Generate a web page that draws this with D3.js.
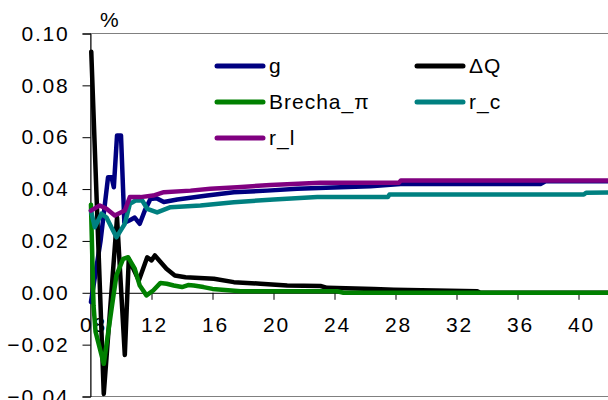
<!DOCTYPE html>
<html>
<head>
<meta charset="utf-8">
<script src="https://cdn.jsdelivr.net/npm/d3@7"></script>
<style>
  body { margin: 0; background: #fff; }
  svg { display: block; }
  text { font-family: Arial, "Liberation Sans", sans-serif; }
</style>
</head>
<body>
<div id="chart"></div>
<script>
// DATA: [period, value]
var g = [[8.03,-0.0036],[8.66,0.020],[9.15,0.0446],[9.38,0.0446],[9.53,0.0407],[9.74,0.0607],[10.0,0.0607],
  [10.22,0.027],[10.58,0.028],[10.9,0.029],[11.23,0.0266],[11.56,0.0317],[11.93,0.0362],[12.33,0.0365],
  [12.81,0.035],[13.69,0.036],[15.65,0.0375],[17.4,0.0388],[19.59,0.0394],[21.55,0.0401],[24.39,0.0407],
  [26.36,0.0411],[28.33,0.042],[37.51,0.042],[37.84,0.043],[44,0.043]]
var dQ = [[8.05,0.093],[8.87,-0.039],[9.74,0.029],[10.25,-0.024],[10.51,0.013],[11.17,0.0047],[11.72,0.0137],
  [12.0,0.0125],[12.22,0.0144],[12.98,0.0093],[13.53,0.0067],[14.23,0.006],[16.09,0.0054],[17.4,0.0041],
  [19.15,0.0035],[20.9,0.0028],[23.08,0.0026],[23.52,0.0019],[26.58,0.0015],[27.89,0.0012],[33.36,0.0006],
  [33.57,0],[44,0]]
var brecha = [[8.03,0.034],[8.2,-0.005],[8.33,-0.015],[8.87,-0.0274],[9.38,-0.0062],[9.70,0.0067],[10.14,0.0131],
  [10.47,0.0137],[10.9,0.0093],[11.23,0.0028],[11.67,-0.001],[12.11,0.0009],[12.59,0.0038],[13.0,0.0035],
  [13.46,0.0028],[14.0,0.0022],[14.4,0.003],[14.77,0.0028],[15.41,0.0022],[16.0,0.0015],[17.84,0.0006],
  [24.18,0.0006],[24.59,0],[44,0]]
var rc = [[8.03,0.0317],[8.28,0.0253],[8.72,0.0305],[9.05,0.029],[9.70,0.0214],[10.25,0.0266],[10.58,0.0343],
  [10.95,0.0356],[11.39,0.0356],[11.72,0.0324],[12.37,0.031],[13.25,0.033],[15.21,0.0337],[17.4,0.0349],
  [20.02,0.036],[22.87,0.0369],[27.5,0.0369],[27.6,0.0379],[40.35,0.0379],[40.5,0.0386],[44,0.0388]]
var rl = [[8.03,0.0317],[8.61,0.0337],[9.05,0.0324],[9.59,0.0298],[10.25,0.0317],[10.58,0.0369],[11.28,0.0369],
  [12.11,0.0375],[12.81,0.0388],[14.56,0.0394],[15.87,0.0401],[17.62,0.0407],[19.8,0.0416],[23.08,0.0424],
  [28.22,0.0424],[28.35,0.0433],[44,0.0433]]

var yTicks = [-0.04, -0.02, 0, 0.02, 0.04, 0.06, 0.08, 0.10]
var xTicks = [8, 12, 16, 20, 24, 28, 32, 36, 40, 44]

var series = [
  {name: "g", color: "#000080", data: g},
  {name: "\u0394Q", color: "#000000", data: dQ},
  {name: "Brecha_\u03c0", color: "#008000", data: brecha},
  {name: "r_c", color: "#008080", data: rc},
  {name: "r_l", color: "#800080", data: rl}
]

var W = 608, H = 400
var svg = d3.select("#chart").append("svg")
  .attr("width", W)
  .attr("height", H)

// SCALES
var x = d3.scaleLinear().domain([8, 44]).range([90.5, 90.5 + 36 * 15.25])
var y = d3.scaleLinear().domain([-0.04, 0.10]).range([396.5, 33.5])

// PLOT AREA BORDER
svg.append("rect")
  .attr("x", x(8))
  .attr("y", y(0.10))
  .attr("width", x(44) - x(8))
  .attr("height", y(-0.04) - y(0.10))
  .attr("fill", "none")
  .attr("stroke", "#808080")
  .attr("stroke-width", 1)

// X AXIS (sits at zero)
var xAxis = svg.append("g")
  .attr("transform", "translate(0," + y(0) + ")")
  .call(d3.axisBottom(x).tickValues(xTicks).tickSize(7).tickPadding(17)
    .tickFormat(function (d) { return d3.format("02d")(d) }))
xAxis.select(".domain").attr("stroke", "#000")
xAxis.selectAll("line").attr("stroke", "#000")
xAxis.selectAll("text")
  .attr("dx", 2.5)
  .style("font-size", "21px")
  .style("letter-spacing", "1.8px")
  .attr("fill", "#000")

// Y AXIS
var yAxis = svg.append("g")
  .attr("transform", "translate(" + x(8) + ",0)")
  .call(d3.axisLeft(y).tickValues(yTicks).tickSize(8).tickPadding(13)
    .tickFormat(d3.format(".2f")))
yAxis.select(".domain").attr("stroke", "#000")
yAxis.selectAll("line").attr("stroke", "#000")
yAxis.selectAll("text")
  .style("font-size", "21px")
  .style("letter-spacing", "1.8px")
  .attr("fill", "#000")

svg.append("text")
  .attr("x", 100)
  .attr("y", 27)
  .style("font-size", "21px")
  .text("%")

// LINES
var line = d3.line()
  .x(function (d) { return x(d[0]) })
  .y(function (d) { return y(d[1]) })

svg.selectAll(".series")
  .data(series)
  .enter().append("path")
    .attr("class", "series")
    .attr("d", function (d) { return line(d.data) })
    .attr("fill", "none")
    .attr("stroke", function (d) { return d.color })
    .attr("stroke-width", 4.5)
    .attr("stroke-linejoin", "round")
    .attr("stroke-linecap", "round")

// LEGEND
var legendX = 200, legendY = 36
var legend = svg.selectAll(".legend")
  .data(series)
  .enter().append("g")
    .attr("class", "legend")
    .attr("transform", function (d, i) { return "translate(" + (217 + (i % 2) * legendX) + "," + (66 + Math.floor(i / 2) * legendY) + ")" })

legend.append("line")
  .attr("x1", 0)
  .attr("x2", 46)
  .attr("y1", 0)
  .attr("y2", 0)
  .attr("stroke", function (d) { return d.color })
  .attr("stroke-width", 5)
  .attr("stroke-linecap", "round")

legend.append("text")
  .attr("x", 52)
  .attr("y", 0)
  .attr("dy", "0.35em")
  .style("font-size", "21px")
  .style("letter-spacing", "1px")
  .text(function (d) { return d.name })
</script>
</body>
</html>
